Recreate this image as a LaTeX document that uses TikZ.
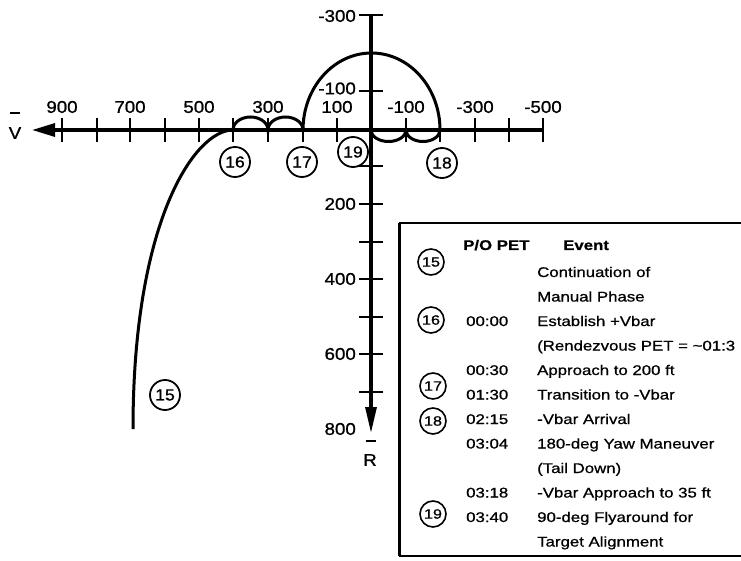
\documentclass[tikz,border=0pt]{standalone}
\usepackage{fontspec}
\setmainfont{Liberation Sans}
\newfontfamily\axfont{Liberation Sans}[FakeStretch=1.1,FakeBold=1]
\newfontfamily\tabfont{Liberation Sans}[FakeStretch=1.2,FakeBold=0.8]
\usetikzlibrary{arrows.meta}
\begin{document}
\begin{tikzpicture}[x=1pt,y=-1pt,
  axisline/.style={line width=3.2pt},
  tickline/.style={line width=2.8pt},
  trajline/.style={line width=3pt},
  axlab/.style={font=\axfont\fontsize{17}{19}\selectfont, inner sep=0pt},
  circlab/.style={circle,draw,line width=1.8pt,minimum size=30pt,inner sep=0pt,font=\axfont\fontsize{16}{18}\selectfont},
  tcirc/.style={circle,draw,line width=1.6pt,minimum size=26pt,inner sep=0pt,font=\tabfont\fontsize{13.5}{15}\selectfont},
  ttext/.style={anchor=base west,inner sep=0pt,font=\tabfont\fontsize{14}{16}\selectfont},
  thead/.style={anchor=base west,inner sep=0pt,font=\tabfont\bfseries\fontsize{14}{16}\selectfont},
]
\useasboundingbox (0,0) rectangle (741,561);
\fill[white] (0,0) rectangle (741,561);

% ---------- axes ----------
\coordinate (O) at (371,130);
\coordinate (hend) at (543,130);
\coordinate (htip) at (32,130);
\coordinate (vtop) at (371,15);
\coordinate (vtip) at (371,433);
\draw[axisline,-{Triangle[length=23pt,width=13pt]}] (hend) -- (htip);
\draw[axisline,-{Triangle[length=26pt,width=11pt]}] (vtop) -- (vtip);

% horizontal ticks
\foreach \x in {62,97,130,165,199,233,268,303,337,406,440,475,509,543}
  \draw[tickline] (\x,118) -- (\x,142);
% vertical ticks
\foreach \y in {15,91,166,204,242,279,317,354,392}
  \draw[tickline] (359,\y) -- (383,\y);

% horizontal labels
\foreach \x/\t in {62/900,130/700,199/500,268/300,337/100,406/-100,475/-300,543/-500}
  \node[axlab] at (\x,107) {\t};
% vertical labels
\foreach \y/\t in {16/-300,88.5/-100,204/200,279/400,354/600,429/800}
  \node[axlab,anchor=east] at (356,\y) {\t};

% axis names
\node[axlab] (vlab) at (15,133) {V};
\draw[line width=1.6pt] (10,113) -- (20,113);
\node[axlab] (rlab) at (370,460) {R};
\draw[line width=1.6pt] (365.5,441) -- (375.5,441);

% ---------- trajectory ----------
\coordinate (p16) at (233,130);
\coordinate (p300) at (268,130);
\coordinate (p17) at (303,130);
\coordinate (ptop) at (371.5,53);
\coordinate (p18) at (440,130);
\coordinate (p100m) at (406,130);
\coordinate (c15) at (133,429);

\draw[trajline] (p16) .. controls (195,130) and (133,220) .. (c15);
\draw[trajline] (p16) .. controls (233,122.8) and (240.8,117) .. (250.5,117)
                      .. controls (260.2,117) and (268,122.8) .. (p300)
                      .. controls (268,122.8) and (275.8,117) .. (285.5,117)
                      .. controls (295.2,117) and (303,122.8) .. (p17);
\draw[trajline] (p17) .. controls (303,87.5) and (333.7,53) .. (ptop)
                      .. controls (409.3,53) and (440,87.5) .. (p18);
\draw[trajline] (O) .. controls (371,136.4) and (378.8,141.5) .. (388.5,141.5)
                    .. controls (398.2,141.5) and (406,136.4) .. (p100m)
                    .. controls (406,136.4) and (413.6,141.5) .. (423,141.5)
                    .. controls (432.4,141.5) and (440,136.4) .. (p18);

% circled labels in the plot
\node[circlab,fill=white] (n16) at (235,162) {16};
\node[circlab,fill=white] (n17) at (302,162) {17};
\node[circlab,fill=white] (n19) at (353,152) {19};
\node[circlab,fill=white] (n18) at (442,163) {18};
\node[circlab] (n15) at (165,395) {15};

% ---------- table ----------
\coordinate (bx1) at (745,223);
\coordinate (bx2) at (399,223);
\coordinate (bx3) at (399,556);
\coordinate (bx4) at (745,556);
\draw[line width=1.8pt] (bx1) -- (bx2);
\draw[line width=3pt] (bx2) -- (bx3);
\draw[line width=2.4pt] (bx3) -- (bx4);

\node[thead] (hpo) at (463,250) {P/O PET};
\node[thead] (hev) at (563,250) {Event};

\node[tcirc] (t15) at (431,262) {15};
\node[tcirc] (t16) at (431,320) {16};
\node[tcirc] (t17) at (433,386) {\raisebox{-5pt}{17}};
\node[tcirc] (t18) at (433,421) {18};
\node[tcirc] (t19) at (433,514) {19};

\node[ttext] (e1) at (537,277) {Continuation of};
\node[ttext] (e2) at (537,301.5) {Manual Phase};
\node[ttext] (d3) at (466,326) {00:00};
\node[ttext] (e3) at (537,326) {Establish +Vbar};
\node[ttext] (e4) at (537,350.5) {(Rendezvous PET = \textasciitilde 01:3};
\node[ttext] (d5) at (466,375) {00:30};
\node[ttext] (e5) at (537,375) {Approach to 200 ft};
\node[ttext] (d6) at (466,399.5) {01:30};
\node[ttext] (e6) at (537,399.5) {Transition to -Vbar};
\node[ttext] (d7) at (466,424) {02:15};
\node[ttext] (e7) at (537,424) {-Vbar Arrival};
\node[ttext] (d8) at (466,448.5) {03:04};
\node[ttext] (e8) at (537,448.5) {180-deg Yaw Maneuver};
\node[ttext] (e9) at (537,473) {(Tail Down)};
\node[ttext] (d10) at (466,497.5) {03:18};
\node[ttext] (e10) at (537,497.5) {-Vbar Approach to 35 ft};
\node[ttext] (d11) at (466,522) {03:40};
\node[ttext] (e11) at (537,522) {90-deg Flyaround for};
\node[ttext] (e12) at (537,546.5) {Target Alignment};
\end{tikzpicture}
\end{document}
